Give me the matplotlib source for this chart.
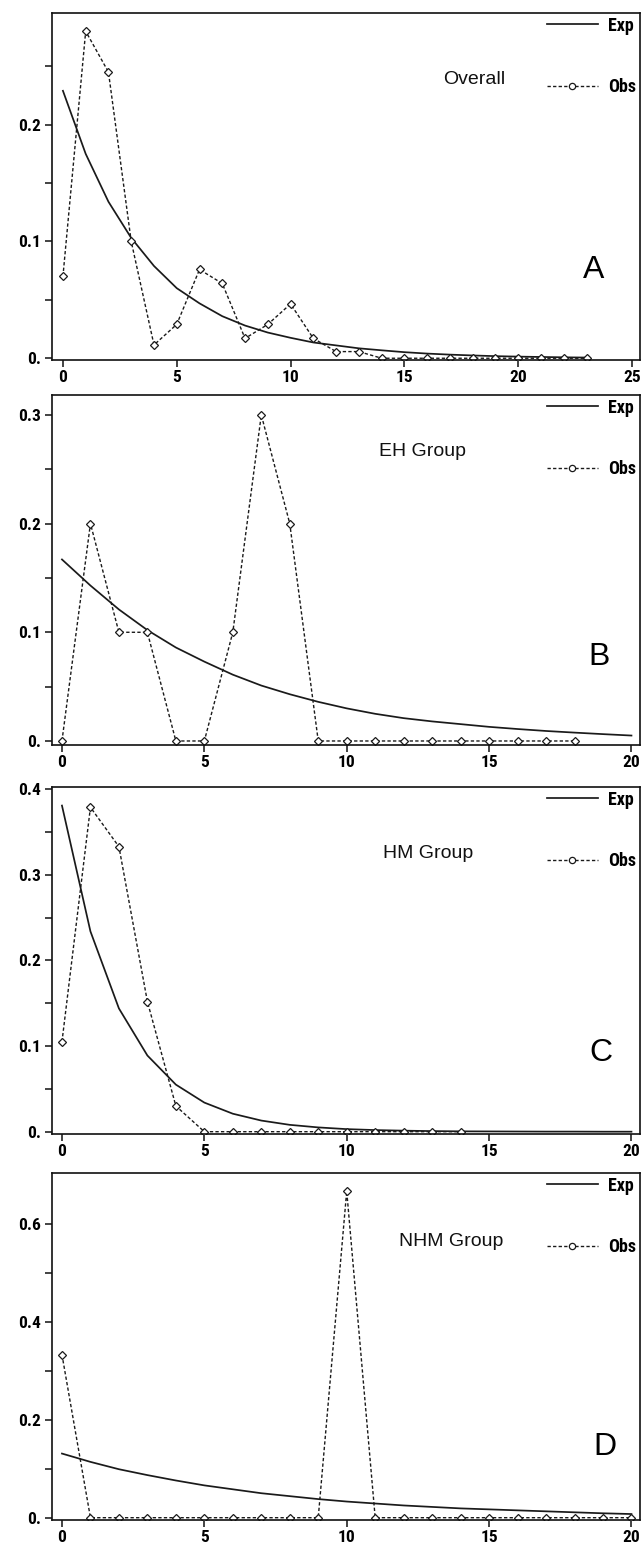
import matplotlib
matplotlib.use("Agg")
import matplotlib.pyplot as plt
from matplotlib.lines import Line2D
from matplotlib.ticker import FixedLocator, FuncFormatter
from matplotlib import font_manager

# ---------------- data ----------------
# Panel A (Overall)
a_obs_x = list(range(0, 24))
a_obs = [0.070, 0.280, 0.245, 0.100, 0.0114, 0.029, 0.076, 0.064, 0.017, 0.029,
         0.0465, 0.017, 0.0057, 0.0057, 0, 0, 0, 0, 0, 0, 0, 0, 0, 0]
a_exp_x = list(range(0, 24))
a_exp = [0.229, 0.175, 0.134, 0.103, 0.079, 0.060, 0.047, 0.036, 0.028, 0.022,
         0.0175, 0.0135, 0.0110, 0.0085, 0.0068, 0.0052, 0.0040, 0.0031, 0.0024,
         0.0018, 0.0014, 0.0011, 0.0008, 0.0006]

# Panel B (EH Group)
b_obs_x = list(range(0, 19))
b_obs = [0, 0.2, 0.1, 0.1, 0, 0, 0.1, 0.3, 0.2, 0, 0, 0, 0, 0, 0, 0, 0, 0, 0]
b_exp_x = list(range(0, 21))
b_exp = [0.167, 0.143, 0.121, 0.102, 0.086, 0.073, 0.061, 0.051, 0.043, 0.036,
         0.030, 0.025, 0.021, 0.018, 0.0155, 0.0130, 0.0110, 0.0092, 0.0077,
         0.0063, 0.0050]

# Panel C (HM Group)
c_obs_x = list(range(0, 15))
c_obs = [0.105, 0.379, 0.333, 0.152, 0.030, 0, 0, 0, 0, 0, 0, 0, 0, 0, 0]
c_exp_x = list(range(0, 21))
c_exp = [0.381, 0.234, 0.144, 0.089, 0.055, 0.034, 0.021, 0.013, 0.008, 0.005,
         0.003, 0.0019, 0.0012, 0.0007, 0.0004, 0.0003, 0.0002, 0.0001, 0.0001,
         0.0, 0.0]

# Panel D (NHM Group)
d_obs_x = list(range(0, 21))
d_obs = [0.333, 0, 0, 0, 0, 0, 0, 0, 0, 0, 0.667, 0, 0, 0, 0, 0, 0, 0, 0, 0, 0]
d_exp_x = list(range(0, 21))
d_exp = [0.131, 0.114, 0.099, 0.087, 0.076, 0.066, 0.058, 0.050, 0.044, 0.038,
         0.033, 0.029, 0.025, 0.022, 0.019, 0.017, 0.015, 0.013, 0.011, 0.009,
         0.0075]

group_titles = ["Overall", "EH Group", "HM Group", "NHM Group"]
panel_letters = ["A", "B", "C", "D"]
legend_labels = ["Exp", "Obs"]

a_xticks = [0, 5, 10, 15, 20, 25]
bcd_xticks = [0, 5, 10, 15, 20]
a_yticks = [0, 0.1, 0.2]
a_yminor = [0.05, 0.15, 0.25]
b_yticks = [0, 0.1, 0.2, 0.3]
b_yminor = [0.05, 0.15, 0.25]
c_yticks = [0, 0.1, 0.2, 0.3, 0.4]
c_yminor = [0.05, 0.15, 0.25, 0.35]
d_yticks = [0, 0.2, 0.4, 0.6]
d_yminor = [0.1, 0.3, 0.5]

# ---------------- figure ----------------
W, H = 642, 1547
fig = plt.figure(figsize=(W / 100, H / 100), dpi=100)
fig.patch.set_facecolor("white")

# pick a condensed bold face if one is installed
names = {f.name for f in font_manager.fontManager.ttflist}
narrow_family = "DejaVu Sans"
for cand in ["Liberation Sans Narrow", "DejaVu Sans Condensed", "Roboto Condensed",
             "Open Sans Condensed"]:
    if cand in names:
        narrow_family = cand
        break
narrow = [narrow_family, "DejaVu Sans"]
sans = ["Liberation Sans", "DejaVu Sans"]

LINE_C = "#1a1a1a"
DASH = (0, (2.4, 1.6))

panels = [
    dict(top=13, bottom=360, xlim=(-0.48, 25.35), ylim=(-0.0015, 0.2956),
         xt=a_xticks, yt=a_yticks, ym=a_yminor,
         ox=a_obs_x, oy=a_obs, ex=a_exp_x, ey=a_exp,
         title_xy=(443, 80), letter_xy=(594, 270)),
    dict(top=395, bottom=745, xlim=(-0.35, 20.3), ylim=(-0.0037, 0.3183),
         xt=bcd_xticks, yt=b_yticks, ym=b_yminor,
         ox=b_obs_x, oy=b_obs, ex=b_exp_x, ey=b_exp,
         title_xy=(379, 452), letter_xy=(599, 657)),
    dict(top=787, bottom=1134, xlim=(-0.35, 20.3), ylim=(-0.0027, 0.4027),
         xt=bcd_xticks, yt=c_yticks, ym=c_yminor,
         ox=c_obs_x, oy=c_obs, ex=c_exp_x, ey=c_exp,
         title_xy=(383, 853), letter_xy=(601, 1053)),
    dict(top=1173, bottom=1520, xlim=(-0.35, 20.3), ylim=(-0.0047, 0.704),
         xt=bcd_xticks, yt=d_yticks, ym=d_yminor,
         ox=d_obs_x, oy=d_obs, ex=d_exp_x, ey=d_exp,
         title_xy=(399, 1241), letter_xy=(605, 1447)),
]

left_px, right_px = 52, 640


def yfmt(v, pos):
    if abs(v) < 1e-9:
        return "0."
    return f"{v:.1f}"


for i, p in enumerate(panels):
    ax = fig.add_axes([left_px / W, 1 - p["bottom"] / H,
                       (right_px - left_px) / W, (p["bottom"] - p["top"]) / H])
    ax.set_xlim(*p["xlim"])
    ax.set_ylim(*p["ylim"])

    ax.plot(p["ex"], p["ey"], color=LINE_C, lw=1.25, solid_joinstyle="miter")
    ax.plot(p["ox"], p["oy"], color=LINE_C, lw=1.0, linestyle=DASH,
            marker="D", markersize=4.2, markerfacecolor="white",
            markeredgecolor=LINE_C, markeredgewidth=0.9)

    for s in ax.spines.values():
        s.set_linewidth(1.2)
        s.set_color("#111111")

    ax.xaxis.set_major_locator(FixedLocator(p["xt"]))
    ax.yaxis.set_major_locator(FixedLocator(p["yt"]))
    ax.yaxis.set_minor_locator(FixedLocator(p["ym"]))
    ax.yaxis.set_major_formatter(FuncFormatter(yfmt))
    ax.tick_params(axis="both", which="both", direction="out", length=5,
                   width=1.1, color="#111111")
    ax.tick_params(axis="x", pad=2.5)
    ax.tick_params(axis="y", pad=3)
    for lab in ax.get_xticklabels() + ax.get_yticklabels():
        lab.set_fontfamily(narrow)
        lab.set_fontweight("bold")
        lab.set_fontsize(12.5)

    # legend
    h_exp = Line2D([], [], color=LINE_C, lw=1.25)
    h_obs = Line2D([], [], color=LINE_C, lw=1.0, linestyle=DASH, marker="o",
                   markersize=4.5, markerfacecolor="white",
                   markeredgecolor=LINE_C, markeredgewidth=0.9)
    leg = ax.legend([h_exp, h_obs], legend_labels, loc="upper right",
                    frameon=False, handlelength=2.8, handletextpad=0.6,
                    labelspacing=2.4, borderaxespad=0.05, borderpad=0.15,
                    prop=dict(family=narrow, weight="bold", size=13))

    # group title and panel letter
    tx, ty = p["title_xy"]
    fig.text(tx / W, 1 - ty / H, group_titles[i], fontfamily=sans,
             fontsize=14, ha="left", va="center", color="#111111")
    lx, ly = p["letter_xy"]
    fig.text(lx / W, 1 - ly / H, panel_letters[i], fontfamily=sans,
             fontsize=23, ha="center", va="center", color="#000000")

fig.savefig("out.png", dpi=100, facecolor="white")
